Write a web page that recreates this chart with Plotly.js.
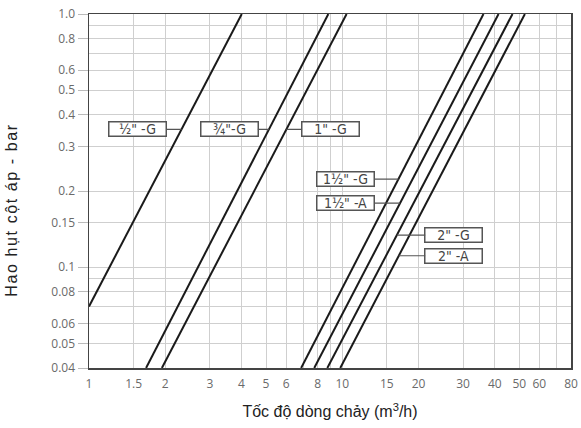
<!DOCTYPE html>
<html>
<head>
<meta charset="utf-8">
<script src="https://cdn.plot.ly/plotly-3.0.1.min.js"></script>
<style>
html,body{margin:0;padding:0;background:#fff;}
#chart{width:581px;height:428px;}
#chart .annotation[data-index="7"] text{letter-spacing:1.6px;}
</style>
</head>
<body>
<div id="chart"></div>
<script>
// Series: each curve is a straight line on log-log axes, read at its two ends
const seriesNames = ['½" -G', '¾"-G', '1" -G', '1½" -G', '1½" -A', '2" -G', '2" -A'];
const flowStart = [1.0, 1.68, 1.94, 6.88, 7.75, 8.73, 9.82];
const flowEnd   = [4.01, 8.81, 10.4, 36.1, 41.4, 47.0, 52.6];
const lossStart = [0.07, 0.04, 0.04, 0.04, 0.04, 0.04, 0.04];
const lossEnd   = [1.0, 1.0, 1.0, 1.0, 1.0, 1.0, 1.0];

// Axis ticks
const xTickVals = [1, 1.5, 2, 3, 4, 5, 6, 8, 10, 15, 20, 30, 40, 50, 60, 80];
const xTickText = ['1', '1.5', '2', '3', '4', '5', '6', '8', '10', '15', '20', '30', '40', '50', '60', '80'];
const xMinorGrid = [7, 9, 70];
const yTickVals = [0.04, 0.05, 0.06, 0.08, 0.1, 0.15, 0.2, 0.3, 0.4, 0.5, 0.6, 0.8, 1.0];
const yTickText = ['0.04', '0.05', '0.06', '0.08', '0.1', '0.15', '0.2', '0.3', '0.4', '0.5', '0.6', '0.8', '1.0'];
const yMinorGrid = [0.07, 0.09, 0.7, 0.9];

// Axis titles
const xTitle = 'Tốc độ dòng chảy (m<sup>3</sup>/h)';
const yTitle = 'Hao hụt cột áp - bar';

// Label box placement (box centre flow value, label level on the pressure axis)
const labelBoxFlow = [1.555, 3.575, 9.01, 10.32, 10.32, 27.6, 27.6];
const labelLevel   = [0.35, 0.35, 0.35, 0.223, 0.179, 0.134, 0.111];

const L = Math.log10;
const traces = seriesNames.map((n, i) => ({
  type: 'scatter', mode: 'lines', name: n,
  x: [flowStart[i], flowEnd[i]], y: [lossStart[i], lossEnd[i]],
  line: {color: '#1a1a1a', width: 2}, hoverinfo: 'x+y+name', showlegend: false
}));

const annotations = seriesNames.map((n, i) => {
  // point on the series line at the label level (log-log interpolation)
  const t = (L(labelLevel[i]) - L(lossStart[i])) / (L(lossEnd[i]) - L(lossStart[i]));
  const lx = L(flowStart[i]) + t * (L(flowEnd[i]) - L(flowStart[i]));
  return {
    x: lx, y: L(labelLevel[i]), xref: 'x', yref: 'y',
    ax: L(labelBoxFlow[i]), ay: L(labelLevel[i]), axref: 'x', ayref: 'y',
    text: n, showarrow: true, arrowhead: 0, arrowwidth: 1.2, arrowcolor: '#555',
    standoff: 0, startstandoff: 0,
    bgcolor: '#fff', bordercolor: '#555', borderwidth: 1.5, borderpad: 0,
    width: 56, height: 13, align: 'center',
    font: {family: '"Liberation Sans Narrow", "DejaVu Sans Condensed", "Arial Narrow", sans-serif', size: 14, color: '#444'}
  };
});
// y-axis title, placed as a rotated text left of the tick labels
annotations.push({
  text: yTitle, textangle: -90, showarrow: false,
  xref: 'paper', yref: 'paper', x: -0.16, y: 0.447, xanchor: 'center', yanchor: 'middle',
  font: {family: '"Liberation Sans", Arial, sans-serif', size: 16, color: '#222'}
});

const tickFont = {family: '"Open Sans", "DejaVu Sans", sans-serif', size: 12, color: '#6a6a6a'};
const layout = {
  width: 581, height: 428,
  margin: {l: 89, r: 10, t: 14, b: 60, pad: 0},
  paper_bgcolor: '#fff', plot_bgcolor: '#fff',
  showlegend: false,
  xaxis: {
    type: 'log', range: [0, L(80)], tickmode: 'array', tickvals: xTickVals, ticktext: xTickText,
    ticks: '', tickfont: tickFont, ticklabelstandoff: 4,
    showgrid: true, gridcolor: '#cfcfcf', gridwidth: 1,
    minor: {tickmode: 'array', tickvals: xMinorGrid, showgrid: true, gridcolor: '#cfcfcf', gridwidth: 1, ticks: ''},
    showline: true, linecolor: '#444', linewidth: 1.5, mirror: true, zeroline: false,
    title: {text: xTitle, font: {family: '"Liberation Sans", Arial, sans-serif', size: 16, color: '#222'}, standoff: 15}
  },
  yaxis: {
    type: 'log', range: [L(0.04), 0], tickmode: 'array', tickvals: yTickVals, ticktext: yTickText,
    ticks: 'outside', ticklen: 10, tickcolor: '#bbb', tickwidth: 1, tickfont: tickFont,
    showgrid: true, gridcolor: '#cfcfcf', gridwidth: 1,
    minor: {tickmode: 'array', tickvals: yMinorGrid, showgrid: true, gridcolor: '#cfcfcf', gridwidth: 1, ticks: ''},
    showline: true, linecolor: '#444', linewidth: 1.5, mirror: true, zeroline: false
  },
  annotations: annotations
};

Plotly.newPlot('chart', traces, layout, {displayModeBar: false, staticPlot: true});
</script>
</body>
</html>
